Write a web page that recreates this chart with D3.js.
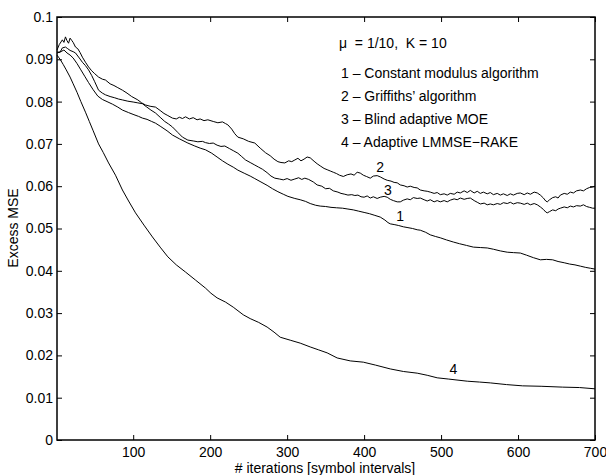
<!DOCTYPE html>
<html><head><meta charset="utf-8">
<script src="https://cdn.jsdelivr.net/npm/d3@7"></script>
<style>
body{margin:0;background:#fff;}
text{font-family:"Liberation Sans",Arial,Helvetica,sans-serif;}
</style></head>
<body><svg id="c" width="606" height="475"></svg>
<script>
const xTicks=[100,200,300,400,500,600,700];
const yTicks=[0,0.01,0.02,0.03,0.04,0.05,0.06,0.07,0.08,0.09,0.1];
const yTickLabels=["0","0.01","0.02","0.03","0.04","0.05","0.06","0.07","0.08","0.09","0.1"];
const legendLines=["1 \u2013 Constant modulus algorithm","2 \u2013 Griffiths\u2019 algorithm","3 \u2013 Blind adaptive MOE","4 \u2013 Adaptive LMMSE\u2212RAKE"];
const paramText="\u03bc  = 1/10,  K = 10";
const curveLabels=[{t:"2",i:421,v:0.0645},{t:"3",i:431,v:0.0591},{t:"1",i:447,v:0.0530},{t:"4",i:516,v:0.0167}];

// Curve 1: Constant modulus algorithm
const cma=[[1,.0915],[5,.0917],[10,.0922],[14,.0915],[18,.0910],[22,.0903],[27,.0890],[32,.0875],[37,.0860],[42,.0845],[48,.0828],[54,.0813],[60,.0805],[66,.0800],[73,.0794],[80,.0787],[86,.0780],[94,.0774],[101,.0769],[107,.0765],[112,.0761],[118,.0758],[124,.0753],[129,.0749],[135,.0742],[144,.0731],[151,.0721],[160,.0712],[171,.0702],[180,.0695],[187,.0690],[194,.0686],[202,.0678],[209,.0669],[216,.0660],[223,.0652],[230,.0645],[236,.0638],[245,.0630],[252,.0624],[258,.0618],[266,.0610],[274,.0602],[281,.0594],[288,.0587],[295,.0581],[301,.0576],[310,.0571],[317,.0568],[324,.0564],[330,.0559],[337,.0555],[343,.0553],[350,.0552],[357,.0550],[364,.0549],[372,.0548],[379,.0546],[386,.0544],[393,.0541],[400,.0538],[407,.0535],[414,.0531],[421,.0527],[427,.0520],[431,.0514],[434,.0511],[440,.0509],[445,.0507],[451,.0504],[457,.0502],[463,.0500],[469,.0497],[473,.0496],[480,.0491],[486,.0485],[493,.0481],[499,.0478],[507,.0473],[516,.0468],[524,.0464],[533,.0460],[542,.0456],[551,.0455],[560,.0454],[568,.0451],[577,.0447],[586,.0444],[594,.0443],[603,.0442],[611,.0437],[620,.0431],[629,.0426],[637,.0427],[645,.0426],[652,.0422],[660,.0419],[667,.0416],[674,.0414],[681,.0411],[688,.0408],[694,.0406],[700,.0404]];

// Curve 2: Griffiths' algorithm
const griffiths=[[1,.0922],[4,.0935],[8,.0946],[10,.0940],[12,.0953],[14,.0944],[16,.0938],[18,.0950],[20,.0945],[22,.0940],[25,.0929],[28,.0925],[31,.0916],[34,.0905],[38,.0893],[42,.0882],[46,.0873],[50,.0866],[55,.0858],[60,.0853],[64,.0851],[70,.0842],[75,.0838],[80,.0833],[86,.0827],[92,.0820],[98,.0812],[106,.0804],[111,.0797],[116,.0792],[122,.0789],[129,.0787],[135,.0779],[140,.0772],[145,.0767],[151,.0761],[156,.0759],[160,.0763],[164,.0760],[168,.0764],[173,.0759],[178,.0762],[183,.0757],[187,.0759],[192,.0755],[197,.0757],[204,.0753],[210,.0750],[216,.0752],[220,.0748],[223,.0745],[228,.0735],[232,.0724],[236,.0716],[243,.0712],[250,.0706],[258,.0702],[265,.0690],[272,.0679],[278,.0672],[283,.0664],[288,.0658],[292,.0656],[297,.0655],[302,.0660],[306,.0658],[310,.0662],[314,.0666],[318,.0660],[322,.0664],[326,.0669],[330,.0667],[335,.0659],[339,.0653],[343,.0648],[348,.0642],[352,.0639],[356,.0636],[360,.0633],[364,.0630],[368,.0626],[373,.0623],[378,.0627],[383,.0629],[387,.0626],[391,.0633],[395,.0631],[399,.0626],[403,.0623],[408,.0619],[412,.0624],[417,.0625],[421,.0622],[426,.0617],[430,.0614],[435,.0612],[439,.0609],[443,.0608],[447,.0603],[452,.0601],[456,.0598],[460,.0600],[465,.0597],[469,.0596],[473,.0591],[478,.0589],[482,.0588],[486,.0586],[491,.0583],[495,.0585],[499,.0580],[504,.0582],[508,.0579],[512,.0583],[517,.0581],[521,.0586],[525,.0584],[530,.0589],[534,.0585],[538,.0590],[543,.0584],[547,.0588],[551,.0583],[555,.0586],[560,.0582],[564,.0585],[568,.0580],[573,.0583],[577,.0579],[581,.0582],[586,.0578],[590,.0582],[594,.0579],[599,.0583],[603,.0584],[608,.0580],[612,.0584],[616,.0581],[621,.0586],[625,.0584],[629,.0579],[633,.0572],[636,.0565],[638,.0563],[641,.0568],[645,.0573],[649,.0575],[652,.0572],[655,.0579],[660,.0583],[664,.0581],[668,.0586],[672,.0584],[676,.0589],[681,.0591],[685,.0589],[689,.0594],[693,.0597],[697,.0598],[700,.0600]];

// Curve 3: Blind adaptive MOE
const moe=[[1,.0917],[5,.0917],[8,.0927],[12,.0929],[15,.0925],[18,.0921],[22,.0918],[25,.0915],[30,.0903],[34,.0893],[38,.0885],[42,.0875],[46,.0862],[50,.0847],[55,.0827],[60,.0820],[64,.0816],[70,.0812],[76,.0809],[81,.0806],[86,.0804],[93,.0801],[100,.0799],[106,.0797],[112,.0795],[117,.0788],[123,.0780],[129,.0773],[135,.0763],[141,.0753],[146,.0747],[151,.0740],[158,.0727],[164,.0716],[171,.0709],[178,.0707],[184,.0705],[190,.0706],[194,.0703],[199,.0701],[204,.0702],[209,.0697],[214,.0694],[219,.0695],[225,.0689],[230,.0684],[236,.0678],[241,.0670],[246,.0662],[252,.0656],[258,.0650],[263,.0645],[268,.0640],[274,.0632],[279,.0624],[284,.0619],[290,.0617],[295,.0615],[300,.0618],[305,.0614],[310,.0617],[315,.0620],[319,.0616],[323,.0619],[328,.0616],[334,.0610],[339,.0603],[345,.0600],[350,.0594],[355,.0595],[360,.0589],[366,.0586],[370,.0583],[375,.0581],[379,.0579],[384,.0580],[388,.0578],[392,.0579],[396,.0575],[400,.0574],[404,.0577],[408,.0572],[412,.0575],[417,.0571],[421,.0574],[426,.0576],[430,.0574],[434,.0569],[438,.0566],[443,.0563],[447,.0563],[451,.0567],[456,.0570],[460,.0568],[464,.0573],[469,.0571],[473,.0572],[478,.0568],[482,.0565],[486,.0568],[491,.0563],[495,.0566],[499,.0563],[504,.0566],[508,.0563],[512,.0567],[517,.0570],[521,.0568],[525,.0572],[530,.0569],[534,.0571],[538,.0572],[543,.0566],[547,.0562],[551,.0558],[556,.0560],[560,.0556],[564,.0558],[568,.0556],[573,.0559],[577,.0557],[581,.0561],[586,.0559],[590,.0562],[594,.0558],[599,.0561],[603,.0560],[608,.0557],[612,.0560],[616,.0556],[621,.0559],[625,.0556],[629,.0551],[633,.0545],[636,.0539],[638,.0537],[641,.0540],[645,.0544],[649,.0542],[652,.0546],[655,.0548],[660,.0551],[664,.0549],[668,.0553],[672,.0551],[676,.0554],[681,.0553],[685,.0556],[689,.0552],[693,.0550],[697,.0548],[700,.0548]];

// Curve 4: Adaptive LMMSE-RAKE
const rake=[[1,.0910],[3,.0905],[5,.0900],[9,.0888],[13,.0875],[18,.0858],[22,.0842],[27,.0822],[32,.0800],[38,.0775],[43,.0753],[48,.0731],[55,.0700],[61,.0680],[68,.0655],[77,.0626],[86,.0591],[94,.0565],[103,.0537],[114,.0508],[125,.0480],[135,.0456],[145,.0433],[156,.0414],[168,.0397],[181,.0378],[194,.0359],[201,.0347],[209,.0336],[220,.0326],[230,.0314],[243,.0296],[252,.0287],[263,.0278],[274,.0267],[283,.0255],[291,.0243],[304,.0236],[317,.0229],[330,.0220],[341,.0213],[352,.0206],[365,.0194],[382,.0187],[399,.0184],[415,.0177],[434,.0168],[451,.0162],[469,.0158],[482,.0153],[495,.0147],[510,.0144],[534,.0139],[550,.0137],[564,.0135],[585,.0131],[606,.0128],[630,.0127],[658,.0125],[680,.0124],[700,.0121]];

const series=[cma,griffiths,moe,rake];

const L=57,R=595,T=17,B=440;
const svg=d3.select("#c");
const x=d3.scaleLinear().domain([1,700]).range([L,R]);
const y=d3.scaleLinear().domain([0,0.1]).range([B,T]);
const fs=14;

// curves
const line=d3.line().x(d=>x(d[0])).y(d=>y(d[1]));
svg.append("g").selectAll("path").data(series).join("path")
  .attr("d",line).attr("fill","none").attr("stroke","#000").attr("stroke-width",1);

// axes
const ax=svg.append("g").attr("transform",`translate(0,${B})`)
  .call(d3.axisBottom(x).tickValues(xTicks).tickSizeInner(-5).tickSizeOuter(0).tickPadding(7));
const axT=svg.append("g").attr("transform",`translate(0,${T})`)
  .call(d3.axisTop(x).tickValues(xTicks).tickSizeInner(-5).tickSizeOuter(0).tickFormat(""));
const ayL=svg.append("g").attr("transform",`translate(${L},0)`)
  .call(d3.axisLeft(y).tickValues(yTicks).tickSizeInner(-5).tickSizeOuter(0).tickPadding(4).tickFormat((d,i)=>yTickLabels[i]));
const ayR=svg.append("g").attr("transform",`translate(${R},0)`)
  .call(d3.axisRight(y).tickValues(yTicks).tickSizeInner(-5).tickSizeOuter(0).tickFormat(""));
[ax,axT,ayL,ayR].forEach(g=>{g.select(".domain").remove();g.selectAll("line").attr("stroke","#000");g.selectAll("text").attr("font-size",fs).attr("fill","#000").attr("font-family","Liberation Sans, Arial, sans-serif");});

svg.append("rect").attr("x",L).attr("y",T).attr("width",R-L).attr("height",B-T)
  .attr("fill","none").attr("stroke","#000").attr("stroke-width",1.5);

// axis titles
svg.append("text").attr("x",325).attr("y",473).attr("text-anchor","middle").attr("font-size",fs).text("# iterations [symbol intervals]");
svg.append("text").attr("transform","translate(18,228) rotate(-90)").attr("text-anchor","middle").attr("font-size",fs).text("Excess MSE");

// legend text
svg.append("text").attr("x",339).attr("y",48).attr("font-size",fs).style("white-space","pre").text(paramText);
svg.append("g").selectAll("text").data(legendLines).join("text")
  .attr("x",341).attr("y",(d,i)=>78+i*23).attr("font-size",fs).text(d=>d);

// curve labels
svg.append("g").selectAll("text").data(curveLabels).join("text")
  .attr("x",d=>x(d.i)).attr("y",d=>y(d.v)).attr("text-anchor","middle").attr("dy","0.35em").attr("font-size",fs).text(d=>d.t);
</script></body></html>
